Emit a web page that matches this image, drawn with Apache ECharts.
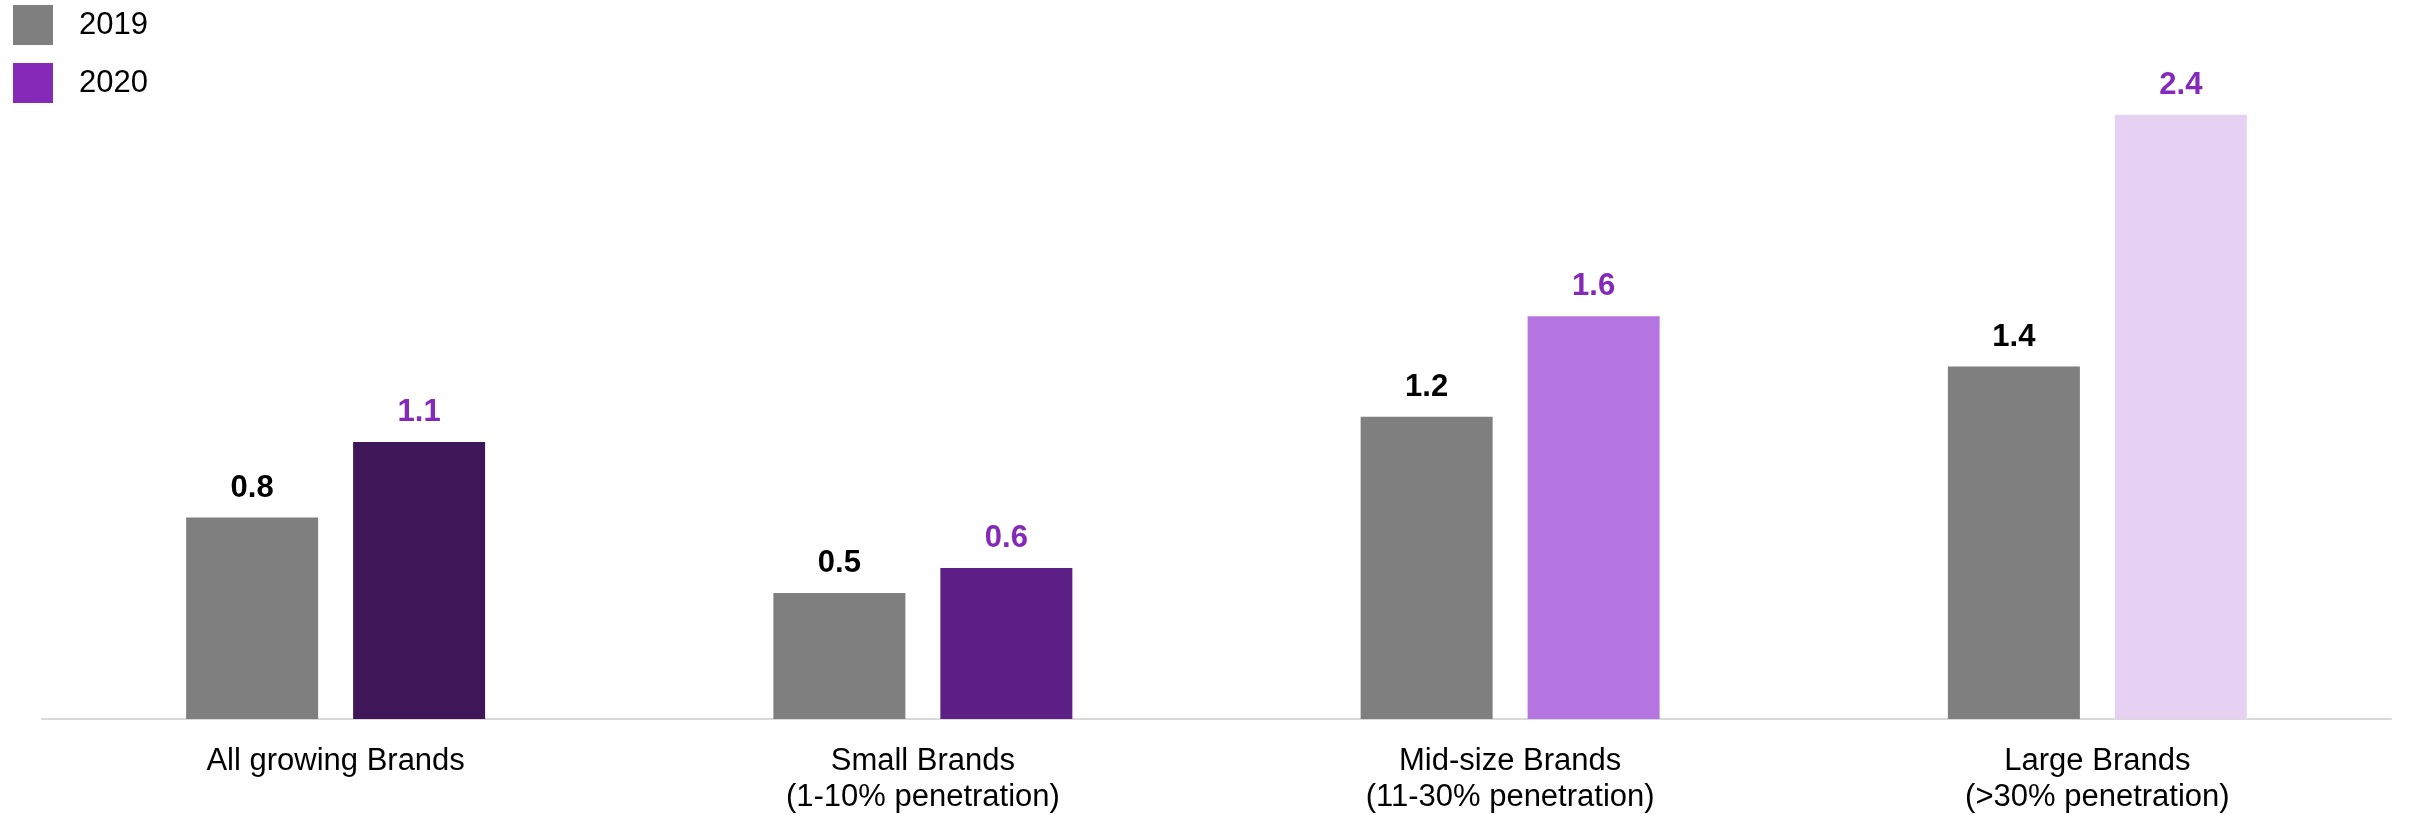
<!DOCTYPE html>
<html>
<head>
<meta charset="utf-8">
<script src="https://cdn.jsdelivr.net/npm/echarts@6/dist/echarts.min.js"></script>
<style>
  html, body { margin: 0; padding: 0; background: #ffffff; }
  #chart { width: 2418px; height: 815px; }
</style>
</head>
<body>
<div id="chart"></div>
<script>
// Brand groups shown along the x axis
const categories = [
  'All growing Brands',
  'Small Brands\n(1-10% penetration)',
  'Mid-size Brands\n(11-30% penetration)',
  'Large Brands\n(>30% penetration)'
];
const seriesNames = ['2019', '2020'];
const values2019 = [0.8, 0.5, 1.2, 1.4];
const values2020 = [1.1, 0.6, 1.6, 2.4];

// Colours
const gray = '#7f7f7f';
const purple = '#8429b8';
const shades2020 = ['#3f1658', '#5c1f85', '#b475e0', '#e6d1f3'];

const font = '"Liberation Sans", Arial, sans-serif';

const chart = echarts.init(document.getElementById('chart'), null, { renderer: 'canvas' });

chart.setOption({
  backgroundColor: '#ffffff',
  animation: false,
  textStyle: { fontFamily: font },
  legend: {
    orient: 'vertical',
    left: 13,
    top: 5,
    padding: 0,
    itemWidth: 40,
    itemHeight: 40,
    itemGap: 18,
    icon: 'rect',
    selectedMode: false,
    data: seriesNames,
    textStyle: {
      fontFamily: font,
      fontSize: 31,
      color: '#000000',
      padding: [0, 0, 0, 21]
    }
  },
  grid: {
    left: 42,
    right: 27,
    top: 14,
    bottom: 95,
    containLabel: false
  },
  xAxis: {
    type: 'category',
    data: categories,
    axisLine: { show: true, lineStyle: { color: '#d9d9d9', width: 2 } },
    axisTick: { show: false },
    axisLabel: {
      interval: 0,
      margin: 24,
      fontFamily: font,
      fontSize: 31,
      lineHeight: 36,
      color: '#000000'
    }
  },
  yAxis: {
    type: 'value',
    min: 0,
    max: 2.8,
    show: false,
    splitLine: { show: false }
  },
  series: [
    {
      name: seriesNames[0],
      type: 'bar',
      barWidth: 132,
      barGap: '26.5%',
      itemStyle: { color: gray },
      label: {
        show: true,
        position: 'top',
        distance: 14,
        fontFamily: font,
        fontSize: 31,
        fontWeight: 'bold',
        color: '#000000',
        formatter: p => p.value.toFixed(1)
      },
      data: values2019
    },
    {
      name: seriesNames[1],
      type: 'bar',
      barWidth: 132,
      barGap: '26.5%',
      itemStyle: { color: purple },
      label: {
        show: true,
        position: 'top',
        distance: 14,
        fontFamily: font,
        fontSize: 31,
        fontWeight: 'bold',
        color: purple,
        formatter: p => p.value.toFixed(1)
      },
      data: values2020.map((v, i) => ({ value: v, itemStyle: { color: shades2020[i] } }))
    }
  ]
});
</script>
</body>
</html>
